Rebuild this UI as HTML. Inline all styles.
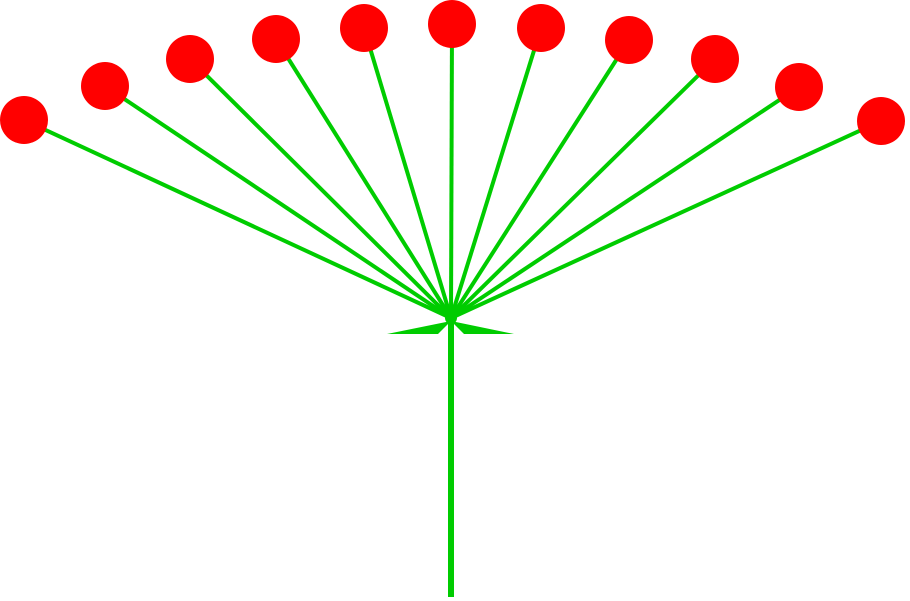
<!DOCTYPE html>
<html><head><meta charset="utf-8"><style>html,body{margin:0;padding:0;background:#fff}svg{display:block}</style></head>
<body>
<svg width="910" height="601" viewBox="0 0 910 601" xmlns="http://www.w3.org/2000/svg">
<g stroke="#00cc00" stroke-width="4" stroke-linecap="butt">
<line x1="451" y1="318" x2="24" y2="120"/>
<line x1="451" y1="318" x2="105" y2="86"/>
<line x1="451" y1="318" x2="190" y2="59"/>
<line x1="451" y1="318" x2="276" y2="39"/>
<line x1="451" y1="318" x2="364" y2="28"/>
<line x1="451" y1="318" x2="452" y2="24"/>
<line x1="451" y1="318" x2="541" y2="28"/>
<line x1="451" y1="318" x2="629" y2="40"/>
<line x1="451" y1="318" x2="715" y2="59"/>
<line x1="451" y1="318" x2="799" y2="87"/>
<line x1="451" y1="318" x2="881" y2="121"/>
</g>
<line x1="451" y1="316" x2="451" y2="597" stroke="#00cc00" stroke-width="6"/>
<polygon points="387,334 451,321 438,334" fill="#00cc00"/>
<polygon points="514,334 451,321 464,334" fill="#00cc00"/>
<circle cx="451" cy="318" r="6" fill="#00cc00"/>
<g fill="#ff0000">
<circle cx="24" cy="120" r="24"/>
<circle cx="105" cy="86" r="24"/>
<circle cx="190" cy="59" r="24"/>
<circle cx="276" cy="39" r="24"/>
<circle cx="364" cy="28" r="24"/>
<circle cx="452" cy="24" r="24"/>
<circle cx="541" cy="28" r="24"/>
<circle cx="629" cy="40" r="24"/>
<circle cx="715" cy="59" r="24"/>
<circle cx="799" cy="87" r="24"/>
<circle cx="881" cy="121" r="24"/>
</g>
</svg>
</body></html>
